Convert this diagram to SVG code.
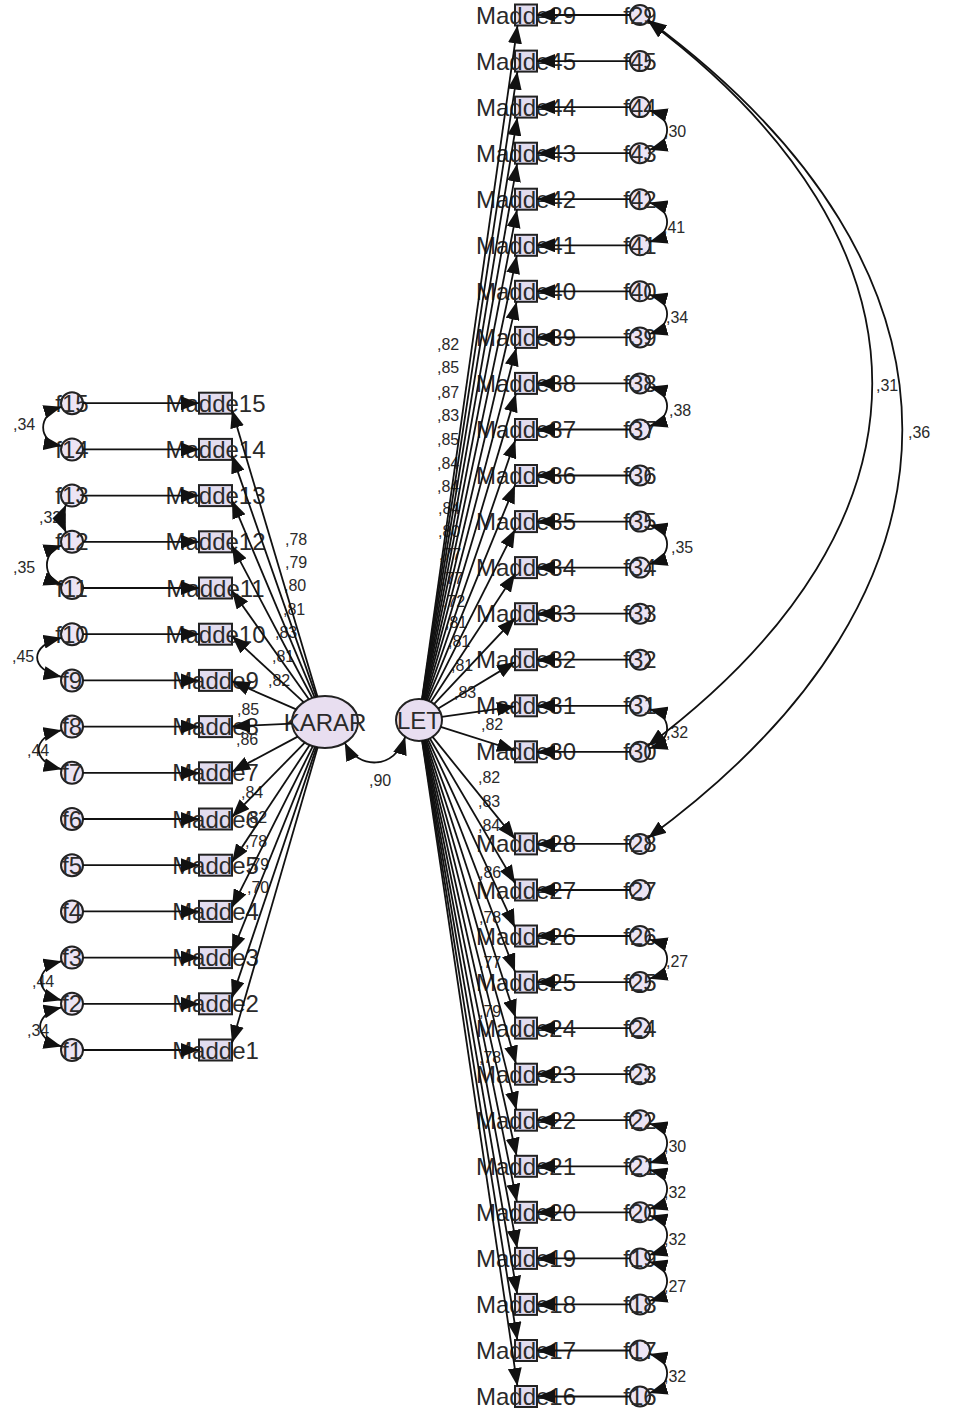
<svg xmlns="http://www.w3.org/2000/svg" width="954" height="1413" viewBox="0 0 954 1413">
<defs>
<marker id="ah" viewBox="0 0 18 14" refX="18" refY="7" markerWidth="18" markerHeight="14" markerUnits="userSpaceOnUse" orient="auto-start-reverse"><path d="M0,0L18,7L0,14z" fill="#111"/></marker>
<style>
.box{fill:#e2dcef;stroke:#222;stroke-width:2}
.err{fill:#ece4f4;stroke:#222;stroke-width:2}
.lat{fill:#e8def0;stroke:#222;stroke-width:2}
.nm{font-family:"Liberation Sans",Arial,sans-serif;font-size:24px;fill:#2a2a2a;text-anchor:middle}
.lb{font-family:"Liberation Sans",Arial,sans-serif;font-size:16px;fill:#2a2a2a}
.c{fill:none;stroke:#111;stroke-width:1.8;marker-end:url(#ah)}
.cv{fill:none;stroke:#111;stroke-width:1.8;marker-start:url(#ah);marker-end:url(#ah)}
</style>
</defs>
<rect width="954" height="1413" fill="#fff"/>
<g id="KARAR"><ellipse class="lat" cx="325" cy="722" rx="33" ry="26"/><text class="nm" x="325" y="730.5">KARAR</text></g>
<g id="LET"><ellipse class="lat" cx="419" cy="720" rx="23" ry="21"/><text class="nm" x="419" y="728.5">LET</text></g>
<g id="left-items">
<g id="Madde1"><rect class="box" x="199" y="1039.5" width="33" height="21"/><text class="nm" x="215.5" y="1058.5">Madde1</text></g>
<g id="Madde2"><rect class="box" x="199" y="993.3" width="33" height="21"/><text class="nm" x="215.5" y="1012.3">Madde2</text></g>
<g id="Madde3"><rect class="box" x="199" y="947.1" width="33" height="21"/><text class="nm" x="215.5" y="966.1">Madde3</text></g>
<g id="Madde4"><rect class="box" x="199" y="900.9" width="33" height="21"/><text class="nm" x="215.5" y="919.9">Madde4</text></g>
<g id="Madde5"><rect class="box" x="199" y="854.7" width="33" height="21"/><text class="nm" x="215.5" y="873.7">Madde5</text></g>
<g id="Madde6"><rect class="box" x="199" y="808.5" width="33" height="21"/><text class="nm" x="215.5" y="827.5">Madde6</text></g>
<g id="Madde7"><rect class="box" x="199" y="762.3" width="33" height="21"/><text class="nm" x="215.5" y="781.3">Madde7</text></g>
<g id="Madde8"><rect class="box" x="199" y="716.1" width="33" height="21"/><text class="nm" x="215.5" y="735.1">Madde8</text></g>
<g id="Madde9"><rect class="box" x="199" y="669.9" width="33" height="21"/><text class="nm" x="215.5" y="688.9">Madde9</text></g>
<g id="Madde10"><rect class="box" x="199" y="623.7" width="33" height="21"/><text class="nm" x="215.5" y="642.7">Madde10</text></g>
<g id="Madde11"><rect class="box" x="199" y="577.5" width="33" height="21"/><text class="nm" x="215.5" y="596.5">Madde11</text></g>
<g id="Madde12"><rect class="box" x="199" y="531.3" width="33" height="21"/><text class="nm" x="215.5" y="550.3">Madde12</text></g>
<g id="Madde13"><rect class="box" x="199" y="485.1" width="33" height="21"/><text class="nm" x="215.5" y="504.1">Madde13</text></g>
<g id="Madde14"><rect class="box" x="199" y="438.9" width="33" height="21"/><text class="nm" x="215.5" y="457.9">Madde14</text></g>
<g id="Madde15"><rect class="box" x="199" y="392.7" width="33" height="21"/><text class="nm" x="215.5" y="411.7">Madde15</text></g>
</g>
<g id="left-errors">
<g id="f1"><circle class="err" cx="72" cy="1050" r="11"/><text class="nm" x="72" y="1058.5">f1</text></g>
<g id="f2"><circle class="err" cx="72" cy="1003.8" r="11"/><text class="nm" x="72" y="1012.3">f2</text></g>
<g id="f3"><circle class="err" cx="72" cy="957.6" r="11"/><text class="nm" x="72" y="966.1">f3</text></g>
<g id="f4"><circle class="err" cx="72" cy="911.4" r="11"/><text class="nm" x="72" y="919.9">f4</text></g>
<g id="f5"><circle class="err" cx="72" cy="865.2" r="11"/><text class="nm" x="72" y="873.7">f5</text></g>
<g id="f6"><circle class="err" cx="72" cy="819" r="11"/><text class="nm" x="72" y="827.5">f6</text></g>
<g id="f7"><circle class="err" cx="72" cy="772.8" r="11"/><text class="nm" x="72" y="781.3">f7</text></g>
<g id="f8"><circle class="err" cx="72" cy="726.6" r="11"/><text class="nm" x="72" y="735.1">f8</text></g>
<g id="f9"><circle class="err" cx="72" cy="680.4" r="11"/><text class="nm" x="72" y="688.9">f9</text></g>
<g id="f10"><circle class="err" cx="72" cy="634.2" r="11"/><text class="nm" x="72" y="642.7">f10</text></g>
<g id="f11"><circle class="err" cx="72" cy="588" r="11"/><text class="nm" x="72" y="596.5">f11</text></g>
<g id="f12"><circle class="err" cx="72" cy="541.8" r="11"/><text class="nm" x="72" y="550.3">f12</text></g>
<g id="f13"><circle class="err" cx="72" cy="495.6" r="11"/><text class="nm" x="72" y="504.1">f13</text></g>
<g id="f14"><circle class="err" cx="72" cy="449.4" r="11"/><text class="nm" x="72" y="457.9">f14</text></g>
<g id="f15"><circle class="err" cx="72" cy="403.2" r="11"/><text class="nm" x="72" y="411.7">f15</text></g>
</g>
<g id="right-items">
<g id="Madde29"><rect class="box" x="515" y="4.5" width="22" height="21"/><text class="nm" x="526" y="23.5">Madde29</text></g>
<g id="Madde45"><rect class="box" x="515" y="50.6" width="22" height="21"/><text class="nm" x="526" y="69.6">Madde45</text></g>
<g id="Madde44"><rect class="box" x="515" y="96.6" width="22" height="21"/><text class="nm" x="526" y="115.6">Madde44</text></g>
<g id="Madde43"><rect class="box" x="515" y="142.7" width="22" height="21"/><text class="nm" x="526" y="161.7">Madde43</text></g>
<g id="Madde42"><rect class="box" x="515" y="188.7" width="22" height="21"/><text class="nm" x="526" y="207.7">Madde42</text></g>
<g id="Madde41"><rect class="box" x="515" y="234.8" width="22" height="21"/><text class="nm" x="526" y="253.8">Madde41</text></g>
<g id="Madde40"><rect class="box" x="515" y="280.8" width="22" height="21"/><text class="nm" x="526" y="299.8">Madde40</text></g>
<g id="Madde39"><rect class="box" x="515" y="326.9" width="22" height="21"/><text class="nm" x="526" y="345.9">Madde39</text></g>
<g id="Madde38"><rect class="box" x="515" y="372.9" width="22" height="21"/><text class="nm" x="526" y="391.9">Madde38</text></g>
<g id="Madde37"><rect class="box" x="515" y="419" width="22" height="21"/><text class="nm" x="526" y="438">Madde37</text></g>
<g id="Madde36"><rect class="box" x="515" y="465" width="22" height="21"/><text class="nm" x="526" y="484">Madde36</text></g>
<g id="Madde35"><rect class="box" x="515" y="511.1" width="22" height="21"/><text class="nm" x="526" y="530.1">Madde35</text></g>
<g id="Madde34"><rect class="box" x="515" y="557.1" width="22" height="21"/><text class="nm" x="526" y="576.1">Madde34</text></g>
<g id="Madde33"><rect class="box" x="515" y="603.2" width="22" height="21"/><text class="nm" x="526" y="622.2">Madde33</text></g>
<g id="Madde32"><rect class="box" x="515" y="649.2" width="22" height="21"/><text class="nm" x="526" y="668.2">Madde32</text></g>
<g id="Madde31"><rect class="box" x="515" y="695.3" width="22" height="21"/><text class="nm" x="526" y="714.3">Madde31</text></g>
<g id="Madde30"><rect class="box" x="515" y="741.3" width="22" height="21"/><text class="nm" x="526" y="760.3">Madde30</text></g>
<g id="Madde28"><rect class="box" x="515" y="833.4" width="22" height="21"/><text class="nm" x="526" y="852.4">Madde28</text></g>
<g id="Madde27"><rect class="box" x="515" y="879.5" width="22" height="21"/><text class="nm" x="526" y="898.5">Madde27</text></g>
<g id="Madde26"><rect class="box" x="515" y="925.5" width="22" height="21"/><text class="nm" x="526" y="944.5">Madde26</text></g>
<g id="Madde25"><rect class="box" x="515" y="971.6" width="22" height="21"/><text class="nm" x="526" y="990.6">Madde25</text></g>
<g id="Madde24"><rect class="box" x="515" y="1017.6" width="22" height="21"/><text class="nm" x="526" y="1036.6">Madde24</text></g>
<g id="Madde23"><rect class="box" x="515" y="1063.7" width="22" height="21"/><text class="nm" x="526" y="1082.7">Madde23</text></g>
<g id="Madde22"><rect class="box" x="515" y="1109.7" width="22" height="21"/><text class="nm" x="526" y="1128.7">Madde22</text></g>
<g id="Madde21"><rect class="box" x="515" y="1155.8" width="22" height="21"/><text class="nm" x="526" y="1174.8">Madde21</text></g>
<g id="Madde20"><rect class="box" x="515" y="1201.8" width="22" height="21"/><text class="nm" x="526" y="1220.8">Madde20</text></g>
<g id="Madde19"><rect class="box" x="515" y="1247.9" width="22" height="21"/><text class="nm" x="526" y="1266.9">Madde19</text></g>
<g id="Madde18"><rect class="box" x="515" y="1293.9" width="22" height="21"/><text class="nm" x="526" y="1312.9">Madde18</text></g>
<g id="Madde17"><rect class="box" x="515" y="1340" width="22" height="21"/><text class="nm" x="526" y="1359">Madde17</text></g>
<g id="Madde16"><rect class="box" x="515" y="1386" width="22" height="21"/><text class="nm" x="526" y="1405">Madde16</text></g>
</g>
<g id="right-errors">
<g id="f29"><circle class="err" cx="640" cy="15" r="10"/><text class="nm" x="640" y="23.5">f29</text></g>
<g id="f45"><circle class="err" cx="640" cy="61.1" r="10"/><text class="nm" x="640" y="69.6">f45</text></g>
<g id="f44"><circle class="err" cx="640" cy="107.1" r="10"/><text class="nm" x="640" y="115.6">f44</text></g>
<g id="f43"><circle class="err" cx="640" cy="153.2" r="10"/><text class="nm" x="640" y="161.7">f43</text></g>
<g id="f42"><circle class="err" cx="640" cy="199.2" r="10"/><text class="nm" x="640" y="207.7">f42</text></g>
<g id="f41"><circle class="err" cx="640" cy="245.3" r="10"/><text class="nm" x="640" y="253.8">f41</text></g>
<g id="f40"><circle class="err" cx="640" cy="291.3" r="10"/><text class="nm" x="640" y="299.8">f40</text></g>
<g id="f39"><circle class="err" cx="640" cy="337.4" r="10"/><text class="nm" x="640" y="345.9">f39</text></g>
<g id="f38"><circle class="err" cx="640" cy="383.4" r="10"/><text class="nm" x="640" y="391.9">f38</text></g>
<g id="f37"><circle class="err" cx="640" cy="429.5" r="10"/><text class="nm" x="640" y="438">f37</text></g>
<g id="f36"><circle class="err" cx="640" cy="475.5" r="10"/><text class="nm" x="640" y="484">f36</text></g>
<g id="f35"><circle class="err" cx="640" cy="521.6" r="10"/><text class="nm" x="640" y="530.1">f35</text></g>
<g id="f34"><circle class="err" cx="640" cy="567.6" r="10"/><text class="nm" x="640" y="576.1">f34</text></g>
<g id="f33"><circle class="err" cx="640" cy="613.7" r="10"/><text class="nm" x="640" y="622.2">f33</text></g>
<g id="f32"><circle class="err" cx="640" cy="659.7" r="10"/><text class="nm" x="640" y="668.2">f32</text></g>
<g id="f31"><circle class="err" cx="640" cy="705.8" r="10"/><text class="nm" x="640" y="714.3">f31</text></g>
<g id="f30"><circle class="err" cx="640" cy="751.8" r="10"/><text class="nm" x="640" y="760.3">f30</text></g>
<g id="f28"><circle class="err" cx="640" cy="843.9" r="10"/><text class="nm" x="640" y="852.4">f28</text></g>
<g id="f27"><circle class="err" cx="640" cy="890" r="10"/><text class="nm" x="640" y="898.5">f27</text></g>
<g id="f26"><circle class="err" cx="640" cy="936" r="10"/><text class="nm" x="640" y="944.5">f26</text></g>
<g id="f25"><circle class="err" cx="640" cy="982.1" r="10"/><text class="nm" x="640" y="990.6">f25</text></g>
<g id="f24"><circle class="err" cx="640" cy="1028.1" r="10"/><text class="nm" x="640" y="1036.6">f24</text></g>
<g id="f23"><circle class="err" cx="640" cy="1074.2" r="10"/><text class="nm" x="640" y="1082.7">f23</text></g>
<g id="f22"><circle class="err" cx="640" cy="1120.2" r="10"/><text class="nm" x="640" y="1128.7">f22</text></g>
<g id="f21"><circle class="err" cx="640" cy="1166.3" r="10"/><text class="nm" x="640" y="1174.8">f21</text></g>
<g id="f20"><circle class="err" cx="640" cy="1212.3" r="10"/><text class="nm" x="640" y="1220.8">f20</text></g>
<g id="f19"><circle class="err" cx="640" cy="1258.4" r="10"/><text class="nm" x="640" y="1266.9">f19</text></g>
<g id="f18"><circle class="err" cx="640" cy="1304.4" r="10"/><text class="nm" x="640" y="1312.9">f18</text></g>
<g id="f17"><circle class="err" cx="640" cy="1350.5" r="10"/><text class="nm" x="640" y="1359">f17</text></g>
<g id="f16"><circle class="err" cx="640" cy="1396.5" r="10"/><text class="nm" x="640" y="1405">f16</text></g>
</g>
<g id="labels" class="lb">
<text x="285" y="545">,78</text><text x="285" y="568">,79</text><text x="284" y="591">,80</text><text x="283" y="615">,81</text><text x="275" y="638">,83</text><text x="272" y="662">,81</text><text x="268" y="686">,82</text><text x="237" y="715">,85</text><text x="236" y="745">,86</text><text x="241" y="798">,84</text><text x="245" y="823">,82</text><text x="245" y="847">,78</text><text x="247" y="870">,79</text><text x="247" y="893">,70</text>
<text x="437" y="350">,82</text><text x="437" y="373">,85</text><text x="437" y="398">,87</text><text x="437" y="421">,83</text><text x="437" y="445">,85</text><text x="437" y="469">,84</text><text x="437" y="492">,84</text><text x="438" y="514">,84</text><text x="438" y="537">,80</text><text x="439" y="560">,77</text><text x="441" y="584">,77</text><text x="443" y="607">,72</text><text x="445" y="628">,81</text><text x="448" y="647">,81</text><text x="451" y="671">,81</text><text x="454" y="698">,83</text><text x="481" y="730">,82</text>
<text x="478" y="783">,82</text><text x="478" y="807">,83</text><text x="478" y="831">,84</text><text x="479" y="878">,86</text><text x="479" y="923">,78</text><text x="479" y="968">,77</text><text x="479" y="1017">,79</text><text x="479" y="1063">,78</text>
<text x="369" y="786">,90</text>
<text x="13" y="430">,34</text><text x="39" y="523">,32</text><text x="13" y="573">,35</text><text x="12" y="662">,45</text><text x="27" y="756">,44</text><text x="32" y="987">,44</text><text x="27" y="1036">,34</text>
<text x="664" y="137">,30</text><text x="663" y="233">,41</text><text x="666" y="323">,34</text><text x="669" y="416">,38</text><text x="671" y="553">,35</text><text x="666" y="738">,32</text><text x="666" y="967">,27</text><text x="664" y="1152">,30</text><text x="664" y="1198">,32</text><text x="664" y="1245">,32</text><text x="664" y="1292">,27</text><text x="664" y="1382">,32</text>
<text x="876" y="391">,31</text><text x="908" y="438">,36</text>
</g>
<g id="connectors">
<path class="c" d="M83,1050H199"/><path class="c" d="M83,1003.8H199"/><path class="c" d="M83,957.6H199"/><path class="c" d="M83,911.4H199"/><path class="c" d="M83,865.2H199"/><path class="c" d="M83,819H199"/><path class="c" d="M83,772.8H199"/><path class="c" d="M83,726.6H199"/><path class="c" d="M83,680.4H199"/><path class="c" d="M83,634.2H199"/><path class="c" d="M83,588H199"/><path class="c" d="M83,541.8H199"/><path class="c" d="M83,495.6H199"/><path class="c" d="M83,449.4H199"/><path class="c" d="M83,403.2H199"/>
<path class="c" d="M630,15H537"/><path class="c" d="M630,61.1H537"/><path class="c" d="M630,107.1H537"/><path class="c" d="M630,153.2H537"/><path class="c" d="M630,199.2H537"/><path class="c" d="M630,245.3H537"/><path class="c" d="M630,291.3H537"/><path class="c" d="M630,337.4H537"/><path class="c" d="M630,383.4H537"/><path class="c" d="M630,429.5H537"/><path class="c" d="M630,475.5H537"/><path class="c" d="M630,521.6H537"/><path class="c" d="M630,567.6H537"/><path class="c" d="M630,613.7H537"/><path class="c" d="M630,659.7H537"/><path class="c" d="M630,705.8H537"/><path class="c" d="M630,751.8H537"/><path class="c" d="M630,843.9H537"/><path class="c" d="M630,890H537"/><path class="c" d="M630,936H537"/><path class="c" d="M630,982.1H537"/><path class="c" d="M630,1028.1H537"/><path class="c" d="M630,1074.2H537"/><path class="c" d="M630,1120.2H537"/><path class="c" d="M630,1166.3H537"/><path class="c" d="M630,1212.3H537"/><path class="c" d="M630,1258.4H537"/><path class="c" d="M630,1304.4H537"/><path class="c" d="M630,1350.5H537"/><path class="c" d="M630,1396.5H537"/>
<path class="c" d="M317.5,696.7L232,409.9"/><path class="c" d="M316.3,696.9L232,455.1"/><path class="c" d="M314.6,697.3L232,500.4"/><path class="c" d="M312.3,698L232,545.6"/><path class="c" d="M308.9,699.3L232,590.8"/><path class="c" d="M303.6,702.2L232,636.1"/><path class="c" d="M296.2,709.4L232,681.3"/><path class="c" d="M292.1,723.6L232,726.5"/><path class="c" d="M297.7,736.6L232,771.7"/><path class="c" d="M304.8,742.6L232,817"/><path class="c" d="M309.7,745L232,862.2"/><path class="c" d="M312.9,746.2L232,907.4"/><path class="c" d="M315,746.8L232,952.6"/><path class="c" d="M316.5,747.1L232,997.9"/><path class="c" d="M317.7,747.2L232,1043.1"/>
<path class="c" d="M422,699.2L517.5,25.5"/><path class="c" d="M422.2,699.2L517.4,71.6"/><path class="c" d="M422.4,699.2L517.3,117.6"/><path class="c" d="M422.7,699.3L517.1,163.7"/><path class="c" d="M423,699.3L517,209.7"/><path class="c" d="M423.3,699.4L516.8,255.8"/><path class="c" d="M423.8,699.5L516.6,301.8"/><path class="c" d="M424.3,699.6L516.3,347.9"/><path class="c" d="M425,699.7L515.9,393.9"/><path class="c" d="M425.9,700L515.4,440"/><path class="c" d="M427,700.3L515,485.3"/><path class="c" d="M428.6,700.9L515,529.5"/><path class="c" d="M430.8,702L515,573.7"/><path class="c" d="M434,704.1L515,618"/><path class="c" d="M438.2,708.4L515,662.1"/><path class="c" d="M441.7,716.8L515,706.4"/><path class="c" d="M440.7,726.9L515,750.5"/>
<path class="c" d="M432.6,736.9L515,838.9"/><path class="c" d="M429.9,738.5L515,883.2"/><path class="c" d="M428,739.3L515,927.4"/><path class="c" d="M426.6,739.8L515,971.6"/><path class="c" d="M425.5,740.1L515.6,1017.6"/><path class="c" d="M424.7,740.3L516,1063.7"/><path class="c" d="M424.1,740.5L516.4,1109.7"/><path class="c" d="M423.6,740.6L516.6,1155.8"/><path class="c" d="M423.2,740.6L516.9,1201.8"/><path class="c" d="M422.8,740.7L517.1,1247.9"/><path class="c" d="M422.6,740.7L517.2,1293.9"/><path class="c" d="M422.3,740.8L517.3,1340"/><path class="c" d="M422.1,740.8L517.4,1386"/>
<path class="cv" d="M344.8,742.8C358,770 395,770 405.2,736.8"/>
<path class="cv" d="M61.6,406.8C37,414 37,442 61.6,445.8"/>
<path class="cv" d="M66,504.8C62,514 62,523 66,532.6"/>
<path class="cv" d="M61.6,545.4C42,552 42,578 61.6,584.4"/>
<path class="cv" d="M61.6,637.8C29,645 29,670 61.6,676.8"/>
<path class="cv" d="M61.6,730.2C31,737 31,762 61.6,769.2"/>
<path class="cv" d="M61.6,961.2C34,968 34,993 61.6,1000.2"/>
<path class="cv" d="M61.6,1007.4C33,1014 33,1039 61.6,1046.4"/>
<path class="cv" d="M649.4,110.5C673,117 673,143 649.4,149.8"/>
<path class="cv" d="M649.4,202.6C673,209 673,235 649.4,241.9"/>
<path class="cv" d="M649.4,294.7C673,301 673,327 649.4,334"/>
<path class="cv" d="M649.4,386.8C673,393 673,419 649.4,426.1"/>
<path class="cv" d="M649.4,525C673,531 673,557 649.4,564.2"/>
<path class="cv" d="M649.4,709.2C673,715 673,741 649.4,748.4"/>
<path class="cv" d="M649.4,939.4C673,946 673,972 649.4,978.7"/>
<path class="cv" d="M649.4,1123.6C673,1130 673,1156 649.4,1162.9"/>
<path class="cv" d="M649.4,1169.7C673,1176 673,1202 649.4,1208.9"/>
<path class="cv" d="M649.4,1215.7C673,1222 673,1248 649.4,1255"/>
<path class="cv" d="M649.4,1261.8C673,1268 673,1294 649.4,1301"/>
<path class="cv" d="M649.4,1353.9C673,1360 673,1386 649.4,1393.1"/>
<path class="cv" d="M648,21C947,245 947,521.6 648,745.8"/>
<path class="cv" d="M648.5,20.3C987,270 987,590 648,837.9"/>
</g>
</svg>
